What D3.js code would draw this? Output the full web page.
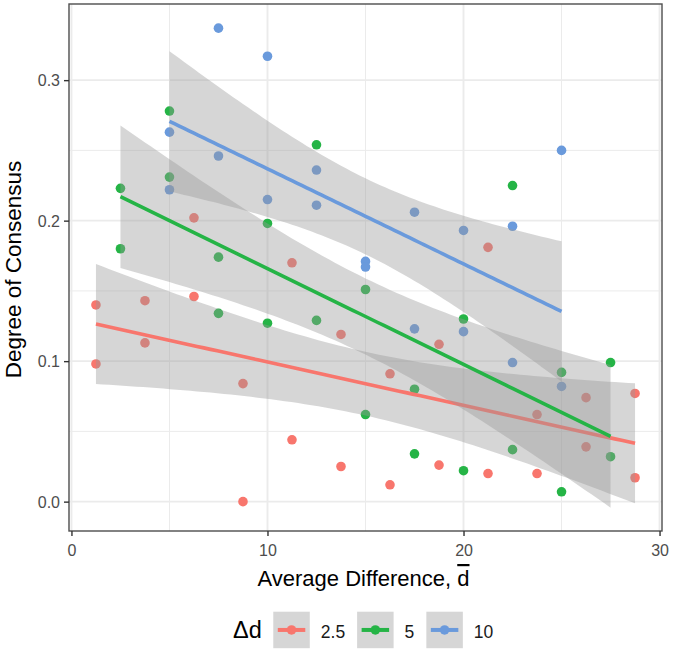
<!DOCTYPE html>
<html>
<head>
<meta charset="utf-8">
<script src="https://cdn.jsdelivr.net/npm/d3@7"></script>
<style>
  html, body { margin: 0; padding: 0; background: #fff; }
  svg { display: block; font-family: "Liberation Sans", Arial, sans-serif; }
</style>
</head>
<body>
<svg id="chart" width="674" height="653"></svg>
<script>
// ---------------- data ----------------
const seriesNames = ["2.5", "5", "10"];
const seriesColors = ["#F8766D", "#25B446", "#6A9ADC"];

const redX  = [1.25, 3.75, 6.25, 8.75, 11.25, 13.75, 16.25, 18.75, 21.25, 23.75, 26.25, 28.75];
const redY1 = [0.140, 0.143, 0.202, 0.084, 0.170, 0.119, 0.091, 0.112, 0.181, 0.062, 0.074, 0.077];
const redY2 = [0.098, 0.113, 0.146, 0.000, 0.044, 0.025, 0.012, 0.026, 0.020, 0.020, 0.039, 0.017];

const greenX  = [2.5, 5, 7.5, 10, 12.5, 15, 17.5, 20, 22.5, 25, 27.5];
const greenY1 = [0.223, 0.278, 0.174, 0.198, 0.254, 0.151, 0.080, 0.130, 0.225, 0.092, 0.099];
const greenY2 = [0.180, 0.231, 0.134, 0.127, 0.129, 0.062, 0.034, 0.022, 0.037, 0.007, 0.032];

const blueX  = [5, 7.5, 10, 12.5, 15, 17.5, 20, 22.5, 25];
const blueY1 = [0.263, 0.337, 0.317, 0.236, 0.171, 0.206, 0.193, 0.196, 0.250];
const blueY2 = [0.222, 0.246, 0.215, 0.211, 0.167, 0.123, 0.121, 0.099, 0.082];

const xTicks = [0, 10, 20, 30];
const xMinor = [5, 15, 25];
const yTicks = [0.0, 0.1, 0.2, 0.3];
const yMinor = [0.05, 0.15, 0.25];

const xTitle = "Average Difference, ";
const xTitleSym = "d";
const yTitle = "Degree of Consensus";
const legendTitle = "Δd";

// ---------------- build series ----------------
function build(xs, ya, yb) {
  const pts = [];
  xs.forEach((x, i) => { pts.push({x, y: ya[i]}); pts.push({x, y: yb[i]}); });
  return pts;
}
const series = [
  build(redX, redY1, redY2),
  build(greenX, greenY1, greenY2),
  build(blueX, blueY1, blueY2)
].map((pts, i) => ({name: seriesNames[i], color: seriesColors[i], pts}));

// ---------------- stats: lm + 95% CI ----------------
function lgamma(z) {
  const g = 7, c = [0.99999999999980993, 676.5203681218851, -1259.1392167224028,
    771.32342877765313, -176.61502916214059, 12.507343278686905,
    -0.13857109526572012, 9.9843695780195716e-6, 1.5056327351493116e-7];
  if (z < 0.5) return Math.log(Math.PI / Math.sin(Math.PI * z)) - lgamma(1 - z);
  z -= 1;
  let a = c[0]; const t = z + g + 0.5;
  for (let i = 1; i < g + 2; i++) a += c[i] / (z + i);
  return 0.5 * Math.log(2 * Math.PI) + (z + 0.5) * Math.log(t) - t + Math.log(a);
}
function tpdf(x, df) {
  return Math.exp(lgamma((df + 1) / 2) - lgamma(df / 2)) / Math.sqrt(df * Math.PI) *
    Math.pow(1 + x * x / df, -(df + 1) / 2);
}
function tcdf0(q, df) { // integral from 0 to q
  const n = 400, h = q / n; let s = tpdf(0, df) + tpdf(q, df);
  for (let i = 1; i < n; i++) s += (i % 2 ? 4 : 2) * tpdf(i * h, df);
  return s * h / 3;
}
function tquant(p, df) { // two-sided
  let lo = 0, hi = 20;
  for (let k = 0; k < 60; k++) { const m = (lo + hi) / 2; if (tcdf0(m, df) < p / 2) lo = m; else hi = m; }
  return (lo + hi) / 2;
}
function lmFit(pts) {
  const n = pts.length;
  const xm = d3.mean(pts, d => d.x), ym = d3.mean(pts, d => d.y);
  let sxx = 0, sxy = 0;
  pts.forEach(d => { sxx += (d.x - xm) ** 2; sxy += (d.x - xm) * (d.y - ym); });
  const b = sxy / sxx, a = ym - b * xm;
  let sse = 0; pts.forEach(d => { sse += (d.y - a - b * d.x) ** 2; });
  const s = Math.sqrt(sse / (n - 2));
  const tq = tquant(0.95, n - 2);
  const [x0, x1] = d3.extent(pts, d => d.x);
  const out = [];
  for (let i = 0; i <= 80; i++) {
    const x = x0 + (x1 - x0) * i / 80;
    const f = a + b * x;
    const se = s * Math.sqrt(1 / n + (x - xm) ** 2 / sxx);
    out.push({x, y: f, lo: f - tq * se, hi: f + tq * se});
  }
  return out;
}
series.forEach(s => { s.fit = lmFit(s.pts); });

// ---------------- layout ----------------
const svg = d3.select("#chart");
const P = {left: 69, right: 662, top: 4, bottom: 531};
const x = d3.scaleLinear().domain([-0.125, 30.125]).range([P.left, P.right]);
const y = d3.scaleLinear().domain([-0.0209, 0.3542]).range([P.bottom, P.top]);

// panel background
svg.append("rect").attr("x", P.left).attr("y", P.top)
  .attr("width", P.right - P.left).attr("height", P.bottom - P.top).attr("fill", "#fff");

// grid
const grid = svg.append("g");
grid.selectAll(".xmin").data(xMinor).join("line")
  .attr("x1", d => x(d)).attr("x2", d => x(d)).attr("y1", P.top).attr("y2", P.bottom)
  .attr("stroke", "#EBEBEB").attr("stroke-width", 1);
grid.selectAll(".ymin").data(yMinor).join("line")
  .attr("y1", d => y(d)).attr("y2", d => y(d)).attr("x1", P.left).attr("x2", P.right)
  .attr("stroke", "#EBEBEB").attr("stroke-width", 1);
grid.selectAll(".xmaj").data(xTicks).join("line")
  .attr("x1", d => x(d)).attr("x2", d => x(d)).attr("y1", P.top).attr("y2", P.bottom)
  .attr("stroke", "#EBEBEB").attr("stroke-width", 1.9);
grid.selectAll(".ymaj").data(yTicks).join("line")
  .attr("y1", d => y(d)).attr("y2", d => y(d)).attr("x1", P.left).attr("x2", P.right)
  .attr("stroke", "#EBEBEB").attr("stroke-width", 1.9);

// points (under the smooths)
const pointsG = svg.append("g");
series.forEach(s => {
  pointsG.selectAll(null).data(s.pts).join("circle")
    .attr("cx", d => x(d.x)).attr("cy", d => y(d.y)).attr("r", 4.8)
    .attr("fill", s.color);
});

// smooths: ribbon then line per group
const area = d3.area().x(d => x(d.x)).y0(d => y(d.lo)).y1(d => y(d.hi));
const line = d3.line().x(d => x(d.x)).y(d => y(d.y));
series.forEach(s => {
  svg.append("path").attr("d", area(s.fit)).attr("fill", "#999999").attr("fill-opacity", 0.4);
  svg.append("path").attr("d", line(s.fit)).attr("fill", "none")
    .attr("stroke", s.color).attr("stroke-width", 3.6);
});

// panel border
svg.append("rect").attr("x", P.left).attr("y", P.top)
  .attr("width", P.right - P.left).attr("height", P.bottom - P.top)
  .attr("fill", "none").attr("stroke", "#4D4D4D").attr("stroke-width", 1.4);

// axes
const xAxis = svg.append("g").attr("transform", `translate(0,${P.bottom})`)
  .call(d3.axisBottom(x).tickValues(xTicks).tickFormat(d3.format("d")).tickSize(5).tickPadding(6));
const yAxis = svg.append("g").attr("transform", `translate(${P.left},0)`)
  .call(d3.axisLeft(y).tickValues(yTicks).tickFormat(d3.format(".1f")).tickSize(5).tickPadding(4));
[xAxis, yAxis].forEach(g => {
  g.select(".domain").remove();
  g.selectAll(".tick line").attr("stroke", "#333").attr("stroke-width", 1.4);
  g.selectAll(".tick text").attr("fill", "#4D4D4D")
    .style("font-size", "16px").style("font-family", "'Liberation Sans', Arial, sans-serif");
});
xAxis.selectAll(".tick text").attr("dy", null).attr("y", 25);
yAxis.selectAll(".tick text").attr("dy", "0.36em");

// axis titles
const xt = svg.append("text").attr("x", (P.left + P.right) / 2 - 2).attr("y", 586)
  .attr("text-anchor", "middle").attr("fill", "#000").style("font-size", "22px");
xt.append("tspan").text(xTitle);
xt.append("tspan").text(xTitleSym).style("text-decoration", "overline");

svg.append("text")
  .attr("transform", `translate(21,${(P.top + P.bottom) / 2 + 2}) rotate(-90)`)
  .attr("text-anchor", "middle").attr("fill", "#000").style("font-size", "22.5px")
  .text(yTitle);

// legend
const lg = svg.append("g");
const lt = lg.append("text").attr("x", 233).attr("y", 638).style("font-size", "23.5px")
  .attr("fill", "#000").text(legendTitle);
let cx = 233 + lt.node().getComputedTextLength() + 11.5;
const keySize = 36.5, keyTop = 611.7;
series.forEach(s => {
  lg.append("rect").attr("x", cx).attr("y", keyTop).attr("width", keySize).attr("height", keySize)
    .attr("fill", "#D6D6D6");
  lg.append("line").attr("x1", cx + 4.5).attr("x2", cx + keySize - 4.5)
    .attr("y1", keyTop + keySize / 2).attr("y2", keyTop + keySize / 2)
    .attr("stroke", s.color).attr("stroke-width", 4);
  lg.append("circle").attr("cx", cx + keySize / 2).attr("cy", keyTop + keySize / 2).attr("r", 4.8)
    .attr("fill", s.color);
  const t = lg.append("text").attr("x", cx + keySize + 11).attr("y", 637.5)
    .style("font-size", "17.5px").attr("fill", "#1a1a1a").text(s.name);
  cx = cx + keySize + 11 + t.node().getComputedTextLength() + 12;
});
</script>
</body>
</html>
